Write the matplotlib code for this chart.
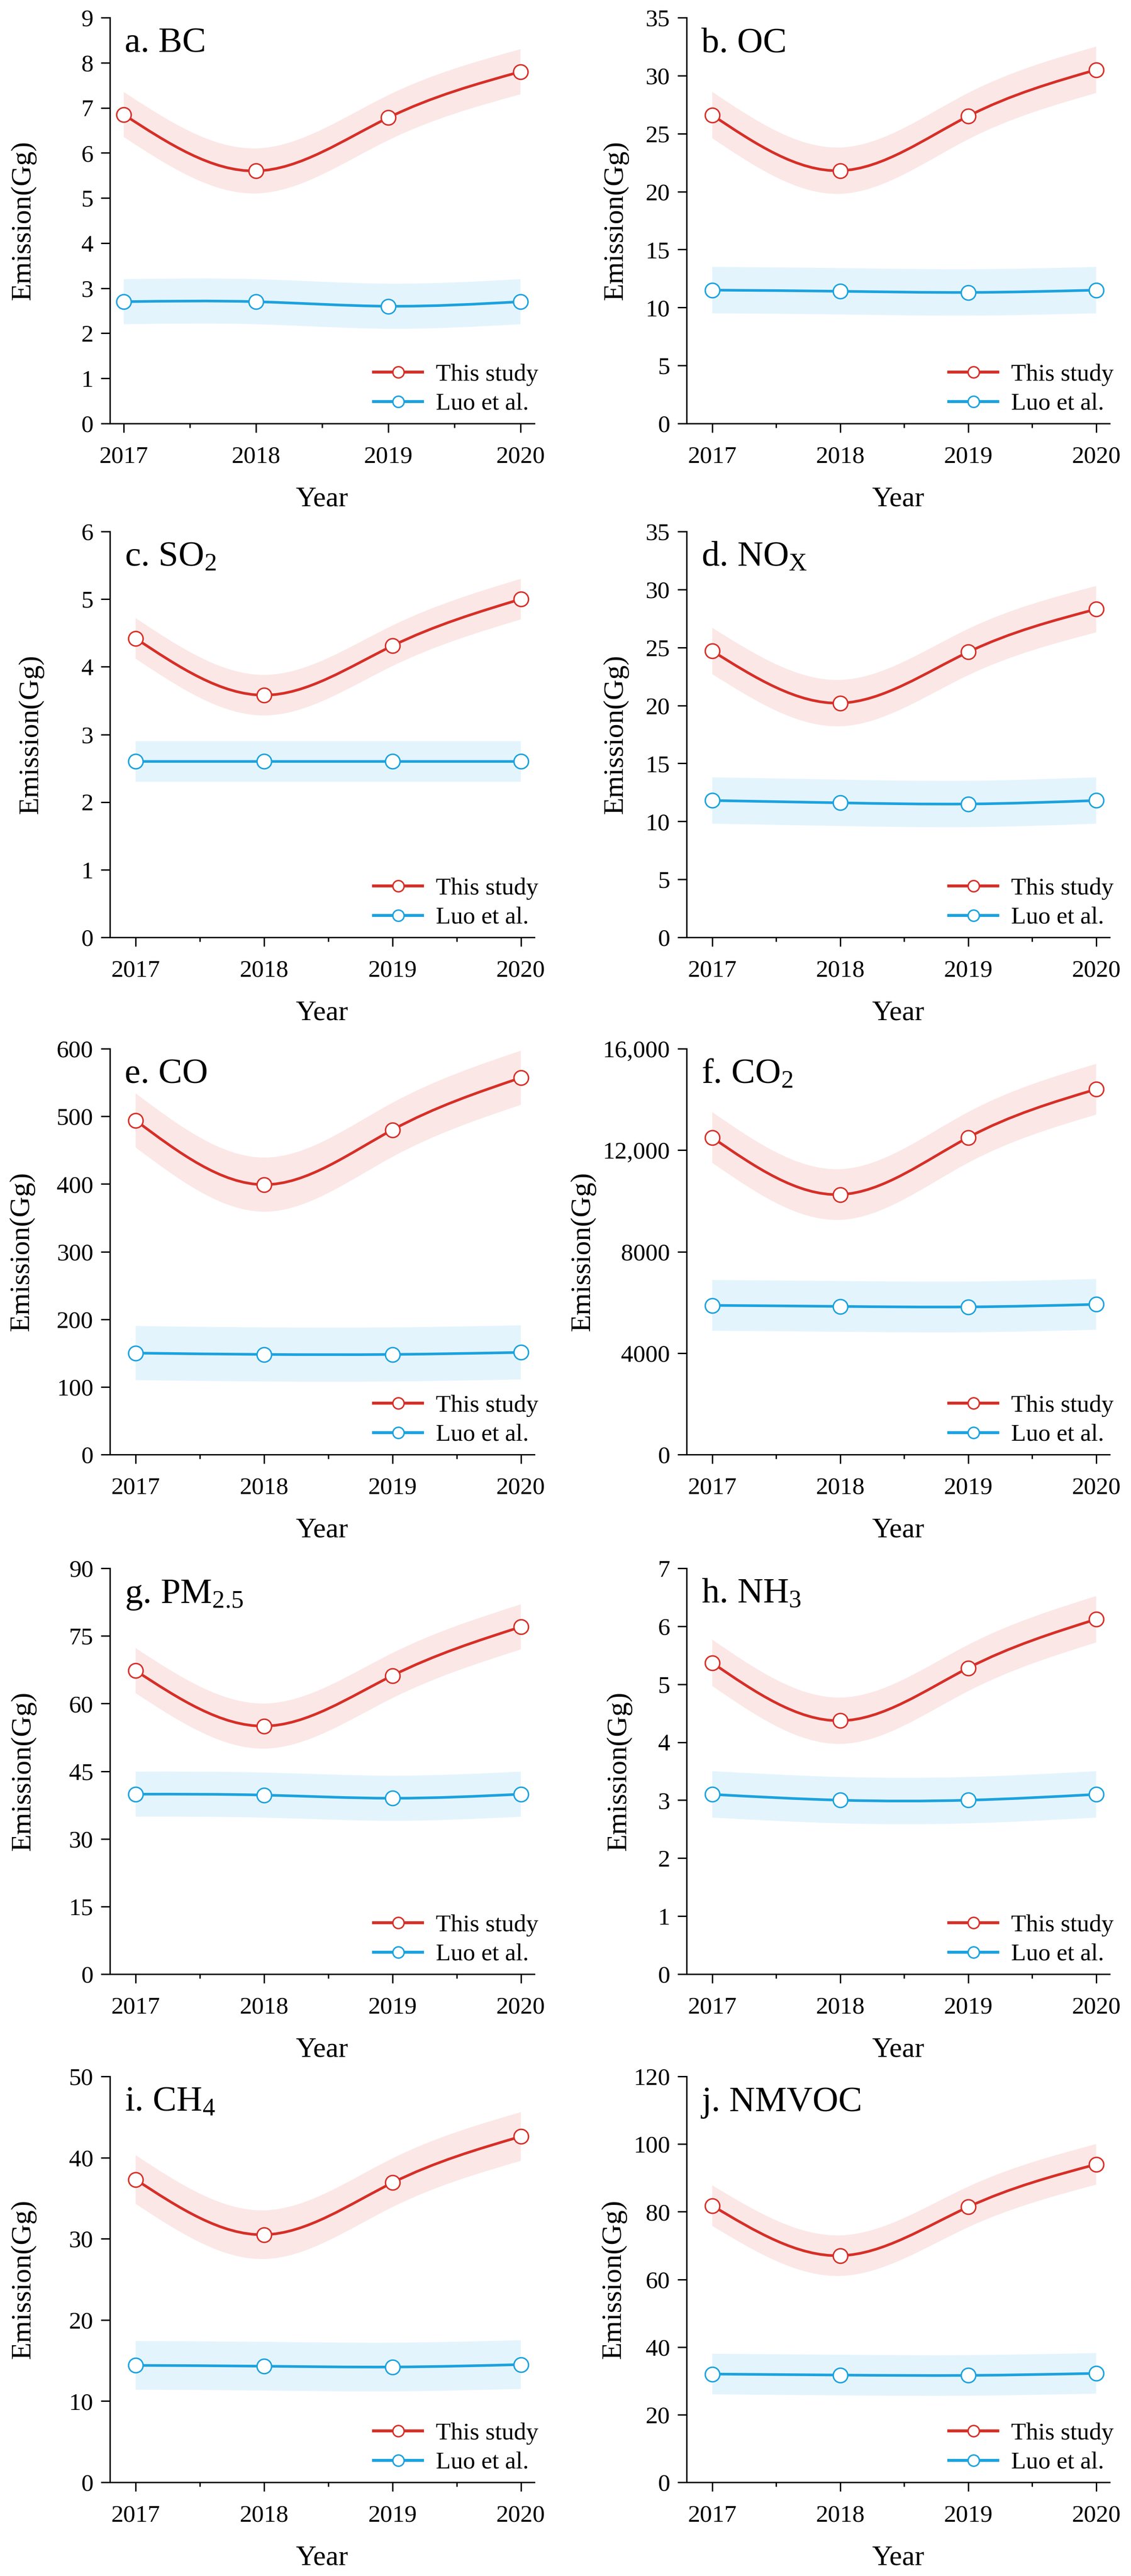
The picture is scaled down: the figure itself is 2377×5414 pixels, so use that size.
import numpy as np
import matplotlib
matplotlib.use("Agg")
import matplotlib.pyplot as plt
from matplotlib.path import Path
from matplotlib.patches import PathPatch
from matplotlib.lines import Line2D
from matplotlib.ticker import MultipleLocator, FuncFormatter

plt.rcParams['font.family'] = ['Liberation Serif', 'DejaVu Serif']
plt.rcParams['mathtext.fontset'] = 'custom'
plt.rcParams['mathtext.rm'] = 'Liberation Serif'
plt.rcParams['mathtext.it'] = 'Liberation Serif:italic'

# ---------------- data ----------------
years = [2017, 2018, 2019, 2020]

BC_this = [6.85, 5.60, 6.78, 7.80]
BC_luo = [2.70, 2.70, 2.60, 2.70]
BC_err = 0.5

OC_this = [26.6, 21.8, 26.5, 30.5]
OC_luo = [11.5, 11.4, 11.3, 11.5]
OC_err = 2.0

SO2_this = [4.42, 3.58, 4.31, 5.00]
SO2_luo = [2.60, 2.60, 2.60, 2.60]
SO2_err = 0.3

NOX_this = [24.7, 20.2, 24.6, 28.3]
NOX_luo = [11.8, 11.6, 11.5, 11.8]
NOX_err = 2.0

CO_this = [494, 399, 480, 557]
CO_luo = [150, 148, 148, 151]
CO_err = 40

CO2_this = [12500, 10250, 12500, 14400]
CO2_luo = [5880, 5840, 5820, 5920]
CO2_err = 1000

PM25_this = [67.3, 55.0, 66.2, 77.0]
PM25_luo = [39.9, 39.7, 39.0, 39.9]
PM25_err = 5.0

NH3_this = [5.37, 4.37, 5.28, 6.12]
NH3_luo = [3.10, 3.00, 3.00, 3.10]
NH3_err = 0.4

CH4_this = [37.3, 30.5, 36.9, 42.6]
CH4_luo = [14.4, 14.3, 14.2, 14.5]
CH4_err = 3.0

NMVOC_this = [81.8, 67.0, 81.4, 94.0]
NMVOC_luo = [32.0, 31.7, 31.6, 32.2]
NMVOC_err = 6.0

panel_titles = ['a. BC', 'b. OC', r'c. SO$_\mathrm{2}$', r'd. NO$_\mathrm{X}$', 'e. CO',
                r'f. CO$_\mathrm{2}$', r'g. PM$_\mathrm{2.5}$', r'h. NH$_\mathrm{3}$',
                r'i. CH$_\mathrm{4}$', 'j. NMVOC']
y_max = [9, 35, 6, 35, 600, 16000, 90, 7, 50, 120]
y_step = [1, 5, 1, 5, 100, 4000, 15, 1, 10, 20]
series_labels = ['This study', 'Luo et al.']
x_label = 'Year'
y_label = 'Emission(Gg)'

panels = [
    (BC_this, BC_luo, BC_err), (OC_this, OC_luo, OC_err),
    (SO2_this, SO2_luo, SO2_err), (NOX_this, NOX_luo, NOX_err),
    (CO_this, CO_luo, CO_err), (CO2_this, CO2_luo, CO2_err),
    (PM25_this, PM25_luo, PM25_err), (NH3_this, NH3_luo, NH3_err),
    (CH4_this, CH4_luo, CH4_err), (NMVOC_this, NMVOC_luo, NMVOC_err),
]

# ---------------- style ----------------
RED = '#D62F27'
BLUE = '#1BA2DE'
RED_FILL = '#FCE7E7'
BLUE_FILL = '#E4F4FD'
LW = 4.0
SPINE_W = 2.1


def spline_slopes(x, y):
    """Slopes of a natural cubic spline through (x, y)."""
    x = np.asarray(x, float)
    y = np.asarray(y, float)
    n = len(x)
    h = np.diff(x)
    A = np.zeros((n, n))
    b = np.zeros(n)
    A[0, 0] = A[-1, -1] = 1.0
    for i in range(1, n - 1):
        A[i, i - 1] = h[i - 1]
        A[i, i] = 2 * (h[i - 1] + h[i])
        A[i, i + 1] = h[i]
        b[i] = 6 * ((y[i + 1] - y[i]) / h[i] - (y[i] - y[i - 1]) / h[i - 1])
    M = np.linalg.solve(A, b)
    m = np.zeros(n)
    for i in range(n - 1):
        m[i] = (y[i + 1] - y[i]) / h[i] - h[i] * (2 * M[i] + M[i + 1]) / 6
    m[-1] = (y[-1] - y[-2]) / h[-1] + h[-1] * (M[-2] + 2 * M[-1]) / 6
    return m


def bezier_segments(x, y):
    """Vertices/codes of a smooth curve (cubic Bezier per interval)."""
    x = np.asarray(x, float)
    y = np.asarray(y, float)
    m = spline_slopes(x, y)
    verts = [(x[0], y[0])]
    codes = [Path.MOVETO]
    for i in range(len(x) - 1):
        h = x[i + 1] - x[i]
        verts += [(x[i] + h / 3, y[i] + m[i] * h / 3),
                  (x[i + 1] - h / 3, y[i + 1] - m[i + 1] * h / 3),
                  (x[i + 1], y[i + 1])]
        codes += [Path.CURVE4] * 3
    return verts, codes


def smooth_line(ax, x, y, color, z):
    verts, codes = bezier_segments(x, y)
    ax.add_patch(PathPatch(Path(verts, codes), fill=False, edgecolor=color,
                           lw=LW, zorder=z, capstyle='round', joinstyle='round'))


def smooth_band(ax, x, y, err, color, z):
    y = np.asarray(y, float)
    v1, c1 = bezier_segments(x, y + err)
    v2, c2 = bezier_segments(x[::-1], (y - err)[::-1])
    verts = v1 + [v2[0]] + v2[1:] + [v1[0]]
    codes = c1 + [Path.LINETO] + c2[1:] + [Path.CLOSEPOLY]
    ax.add_patch(PathPatch(Path(verts, codes), facecolor=color, edgecolor='none',
                           lw=0, zorder=z))


def fmt_tick(v, pos):
    if abs(v) >= 10000:
        return f'{v:,.0f}'
    return f'{v:g}'


W, H = 2377, 5414
fig = plt.figure(figsize=(W / 100, H / 100), dpi=100)

col_left = [231 / W, 1443 / W]
col_width = [892 / W, 889 / W]
row_top = [37, 1117, 2204, 3296, 4364]
ax_h = 853

ylabel_x = [-0.173, -0.137, -0.156, -0.137, -0.177, -0.215, -0.173, -0.129, -0.173, -0.141]

xs = np.array(years, float)

for k, (this, luo, err) in enumerate(panels):
    r, c = divmod(k, 2)
    ax = fig.add_axes([col_left[c], 1 - (row_top[r] + ax_h) / H, col_width[c], ax_h / H])

    smooth_band(ax, xs, luo, err, BLUE_FILL, 1)
    smooth_band(ax, xs, this, err, RED_FILL, 1)
    smooth_line(ax, xs, luo, BLUE, 3)
    smooth_line(ax, xs, this, RED, 3)
    ax.plot(years, luo, linestyle='none', marker='o', ms=22, mfc='white', mec=BLUE,
            mew=2.2, zorder=5, clip_on=False)
    ax.plot(years, this, linestyle='none', marker='o', ms=22, mfc='white', mec=RED,
            mew=2.2, zorder=5, clip_on=False)

    if k == 0:
        ax.set_xlim(2016.895, 2020.105)
    else:
        ax.set_xlim(2016.8, 2020.105)
    ax.set_ylim(0, y_max[k])
    ax.set_xticks(years)
    ax.set_xticklabels([str(y) for y in years])
    ax.xaxis.set_minor_locator(MultipleLocator(0.5))
    ax.set_yticks(np.arange(0, y_max[k] + y_step[k] / 2, y_step[k]))
    ax.yaxis.set_major_formatter(FuncFormatter(fmt_tick))

    for s in ['top', 'right']:
        ax.spines[s].set_visible(False)
    for s in ['left', 'bottom']:
        ax.spines[s].set_linewidth(SPINE_W)

    ax.tick_params(axis='x', which='major', direction='out', length=14, width=SPINE_W,
                   labelsize=37, pad=20)
    ax.tick_params(axis='x', which='minor', direction='out', length=6.5, width=SPINE_W)
    ax.tick_params(axis='y', which='major', direction='out', length=14, width=SPINE_W,
                   labelsize=37, pad=11)

    ax.set_xlabel(x_label, fontsize=43)
    ax.xaxis.set_label_coords(0.5, -0.155)
    ax.xaxis.label.set_va('top')
    ax.set_ylabel(y_label, fontsize=43)
    ax.yaxis.set_label_coords(ylabel_x[k], 0.5)

    ax.text(0.035, 0.915, panel_titles[k], transform=ax.transAxes, fontsize=54,
            ha='left', va='baseline', zorder=6)

    handles = [Line2D([], [], color=RED, lw=LW + 0.5, marker='o', ms=17, mfc='white',
                      mec=RED, mew=2.2),
               Line2D([], [], color=BLUE, lw=LW + 0.5, marker='o', ms=17, mfc='white',
                      mec=BLUE, mew=2.2)]
    ax.legend(handles, series_labels, loc='lower right', bbox_to_anchor=(1.01, 0.02),
              frameon=False, fontsize=37, handlelength=2.0, handletextpad=0.55,
              labelspacing=0.3, borderpad=0, borderaxespad=0)

fig.savefig('out.png', dpi=100, facecolor='white')
